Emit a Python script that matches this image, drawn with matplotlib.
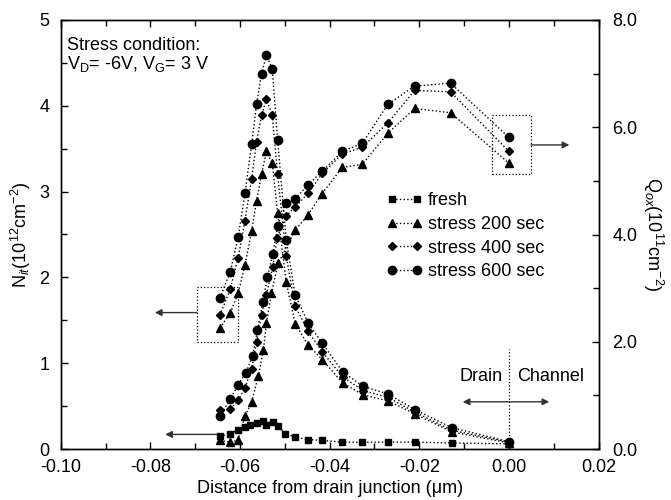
import matplotlib
matplotlib.use("Agg")
import matplotlib.pyplot as plt
from matplotlib.ticker import MultipleLocator, FormatStrFormatter, FuncFormatter

plt.rcParams.update({
    "font.family": ["Liberation Sans", "DejaVu Sans"],
    "font.size": 13,
    "mathtext.fontset": "custom",
    "mathtext.rm": "Liberation Sans",
    "mathtext.it": "Liberation Sans:italic",
    "axes.linewidth": 1.0,
})

# --- data ---
x_fresh = [-0.0645, -0.0622, -0.0604, -0.0589, -0.0578, -0.0563, -0.0548, -0.0541,
           -0.0527, -0.0515, -0.0500, -0.0477, -0.0448, -0.0416, -0.0372, -0.0327,
           -0.0270, -0.0210, -0.0128, 0.0]
nit_fresh = [0.15, 0.18, 0.22, 0.26, 0.28, 0.30, 0.33, 0.28, 0.31, 0.27, 0.18, 0.14,
             0.11, 0.10, 0.08, 0.08, 0.08, 0.08, 0.07, 0.06]

x_nit = [-0.0645, -0.0622, -0.0604, -0.0589, -0.0574, -0.0563, -0.0552, -0.0541,
         -0.0528, -0.0516, -0.0497, -0.0477, -0.0448, -0.0416, -0.0371, -0.0325,
         -0.0269, -0.0210, -0.0128, 0.0]
nit_200 = [1.41, 1.58, 1.82, 2.14, 2.54, 2.89, 3.20, 3.47, 3.33, 2.75, 1.95, 1.46,
           1.21, 1.04, 0.77, 0.63, 0.56, 0.41, 0.20, 0.07]
nit_400 = [1.56, 1.86, 2.23, 2.66, 3.15, 3.58, 3.89, 4.08, 3.89, 3.20, 2.25, 1.67,
           1.37, 1.13, 0.84, 0.68, 0.60, 0.43, 0.22, 0.08]
nit_600 = [1.76, 2.06, 2.47, 2.98, 3.55, 4.02, 4.37, 4.59, 4.43, 3.60, 2.44, 1.80,
           1.47, 1.23, 0.90, 0.73, 0.64, 0.46, 0.25, 0.085]

# Qox in 1e11 cm^-2 (right axis)
x_qox_200 = [-0.0645, -0.0622, -0.0605, -0.0589, -0.0574, -0.0559, -0.0548, -0.0541,
             -0.0530, -0.0515, -0.0477, -0.0448, -0.0418, -0.0372, -0.0327, -0.0270,
             -0.0210, -0.0130, 0.0]
qox_200 = [0.16, 0.13, 0.16, 0.61, 0.88, 1.36, 1.84, 2.35, 2.90, 3.46, 4.08, 4.37,
           4.75, 5.25, 5.31, 5.89, 6.35, 6.27, 5.33]
x_qox_400 = [-0.0645, -0.0622, -0.0604, -0.0589, -0.0574, -0.0563, -0.0552, -0.0541,
             -0.0527, -0.0517, -0.0497, -0.0477, -0.0448, -0.0416, -0.0372, -0.0327,
             -0.0270, -0.0210, -0.0130, 0.0]
qox_400 = [0.72, 0.74, 0.91, 1.14, 1.49, 2.00, 2.50, 2.88, 3.39, 3.94, 4.35, 4.51,
           4.77, 5.14, 5.50, 5.63, 6.08, 6.69, 6.66, 5.55]
x_qox_600 = [-0.0645, -0.0622, -0.0604, -0.0587, -0.0572, -0.0561, -0.0549, -0.0539,
             -0.0527, -0.0516, -0.0497, -0.0477, -0.0448, -0.0416, -0.0372, -0.0327,
             -0.0270, -0.0210, -0.0130, 0.0]
qox_600 = [0.61, 0.93, 1.20, 1.42, 1.73, 2.22, 2.74, 3.20, 3.63, 4.16, 4.58, 4.66,
           4.93, 5.18, 5.55, 5.70, 6.43, 6.77, 6.82, 5.81]

labels = ["fresh", "stress 200 sec", "stress 400 sec", "stress 600 sec"]

fig = plt.figure(figsize=(6.71, 5.0), dpi=100)
ax = fig.add_axes([0.0905, 0.102, 0.8015, 0.858])
ax2 = ax.twinx()

line_kw = dict(color="k", linestyle=":", linewidth=1.0, markeredgecolor="k",
               markerfacecolor="k")

h_fresh, = ax.plot(x_fresh, nit_fresh, marker="s", markersize=5, label=labels[0], **line_kw)
h200, = ax.plot(x_nit, nit_200, marker="^", markersize=6, label=labels[1], **line_kw)
h400, = ax.plot(x_nit, nit_400, marker="D", markersize=4.5, label=labels[2], **line_kw)
h600, = ax.plot(x_nit, nit_600, marker="o", markersize=6, label=labels[3], **line_kw)

ax2.plot(x_qox_200, qox_200, marker="^", markersize=6, **line_kw)
ax2.plot(x_qox_400, qox_400, marker="D", markersize=4.5, **line_kw)
ax2.plot(x_qox_600, qox_600, marker="o", markersize=6, **line_kw)

ax.set_xlim(-0.10, 0.02)
ax.set_ylim(0, 5)
ax2.set_ylim(0, 8)

ax.xaxis.set_major_locator(MultipleLocator(0.02))
ax.xaxis.set_minor_locator(MultipleLocator(0.01))
ax.xaxis.set_major_formatter(FuncFormatter(lambda v, p: f"{v:.2f}".replace("-0.00", "0.00")))
ax.yaxis.set_major_locator(MultipleLocator(1))
ax.yaxis.set_minor_locator(MultipleLocator(0.5))
ax2.yaxis.set_major_locator(MultipleLocator(2))
ax2.yaxis.set_minor_locator(MultipleLocator(1))
ax2.yaxis.set_major_formatter(FormatStrFormatter("%.1f"))

ax.tick_params(which="both", direction="in", top=True, right=False, width=1.0)
ax.tick_params(which="major", length=5)
ax.tick_params(which="minor", length=4)
ax.tick_params(axis="y", pad=8)
ax.tick_params(axis="x", pad=7)
ax2.tick_params(which="both", direction="in", width=1.0, pad=10)
ax2.tick_params(which="major", length=5)
ax2.tick_params(which="minor", length=4)

ax.set_xlabel("Distance from drain junction (μm)", labelpad=3)
ax.set_ylabel("N$_{it}$(10$^{12}$cm$^{-2}$)", labelpad=5)
ax2.set_ylabel("Q$_{ox}$(10$^{11}$cm$^{-2}$)", rotation=270, labelpad=20)

ax.text(-0.0985, 4.80, "Stress condition:\nV$_\\mathrm{D}$= -6V, V$_\\mathrm{G}$= 3 V",
        ha="left", va="top", linespacing=1.0)

leg = ax.legend(handles=[h_fresh, h200, h400, h600], loc="upper left",
                bbox_to_anchor=(0.6056, 0.598), frameon=False, numpoints=2,
                handlelength=2.0, handletextpad=0.3, labelspacing=0.37,
                borderpad=0.0, borderaxespad=0.0)

# dotted boxes and arrows
box_kw = dict(color="k", linestyle=":", linewidth=0.9)
ax.plot([-0.0696, -0.0604, -0.0604, -0.0696, -0.0696], [1.25, 1.25, 1.89, 1.89, 1.25], **box_kw)
ax2.plot([-0.0037, 0.0049, 0.0049, -0.0037, -0.0037], [5.12, 5.12, 6.22, 6.22, 5.12], **box_kw)

arr = dict(arrowstyle="-|>", color="0.2", lw=1.0, mutation_scale=10, shrinkA=0, shrinkB=0)
ax.annotate("", xy=(-0.0790, 1.59), xytext=(-0.0696, 1.59), arrowprops=arr)
ax.annotate("", xy=(-0.0767, 0.17), xytext=(-0.0652, 0.17), arrowprops=arr)
ax2.annotate("", xy=(0.0135, 5.67), xytext=(0.0049, 5.67), arrowprops=arr)

# drain / channel boundary
ax.plot([0.0, 0.0], [0.0, 1.17], color="k", linestyle=":", linewidth=0.9)
ax.annotate("", xy=(-0.0103, 0.55), xytext=(0.0090, 0.55),
            arrowprops=dict(arrowstyle="<|-|>", color="0.2", lw=1.0,
                            mutation_scale=10, shrinkA=0, shrinkB=0))
ax.text(-0.0061, 0.85, "Drain", ha="center", va="center")
ax.text(0.0092, 0.85, "Channel", ha="center", va="center")

fig.savefig("out.png", dpi=100)
